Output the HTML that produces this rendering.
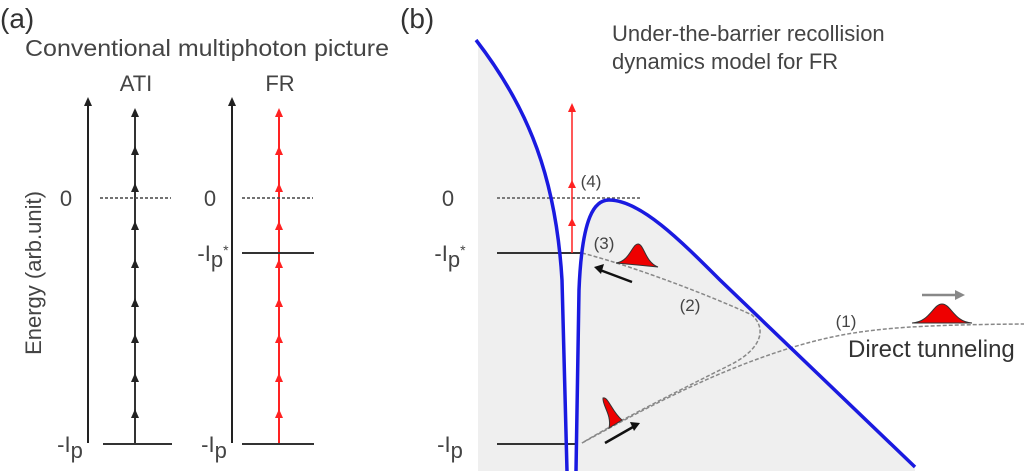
<!DOCTYPE html>
<html><head><meta charset="utf-8"><style>
html,body{margin:0;padding:0;background:#fff;}
svg{display:block;font-family:"Liberation Sans",Arial,sans-serif;}
</style></head><body>
<svg width="1024" height="471" viewBox="0 0 1024 471" xmlns="http://www.w3.org/2000/svg">
<!-- Panel a -->
<text x="0" y="28" font-size="28" fill="#333">(a)</text>
<text x="207" y="56" font-size="23" fill="#444" text-anchor="middle" textLength="364" lengthAdjust="spacingAndGlyphs">Conventional multiphoton picture</text>
<text x="136" y="91" font-size="22" fill="#444" text-anchor="middle">ATI</text>
<text x="280" y="91" font-size="22" fill="#444" text-anchor="middle">FR</text>
<text transform="translate(41,273) rotate(-90)" font-size="22" fill="#444" text-anchor="middle">Energy (arb.unit)</text>
<!-- axis 1 -->
<line x1="88" y1="443" x2="88" y2="104" stroke="#222" stroke-width="2"/>
<path d="M84,106 L88,97 L92,106z" fill="#222"/>
<line x1="135" y1="443" x2="135" y2="112" stroke="#333" stroke-width="2"/>
<g fill="#222">
<path d="M131,117 L135,108 L139,117z"/><path d="M131,155 L135,146 L139,155z"/><path d="M131,192 L135,183 L139,192z"/><path d="M131,230 L135,221 L139,230z"/><path d="M131,268 L135,259 L139,268z"/><path d="M131,307 L135,298 L139,307z"/><path d="M131,343 L135,334 L139,343z"/><path d="M131,382 L135,373 L139,382z"/><path d="M131,418 L135,409 L139,418z"/>
</g>
<line x1="100" y1="198" x2="171" y2="198" stroke="#444" stroke-width="1.5" stroke-dasharray="3,2"/>
<line x1="103" y1="444" x2="172" y2="444" stroke="#333" stroke-width="2"/>
<text x="66" y="206" font-size="22" fill="#444" text-anchor="middle">0</text>
<text x="70" y="452" font-size="22" fill="#444" text-anchor="middle">-I<tspan dy="6">p</tspan></text>
<!-- axis 2 -->
<line x1="232" y1="443" x2="232" y2="104" stroke="#222" stroke-width="2"/>
<path d="M228,106 L232,97 L236,106z" fill="#222"/>
<line x1="279" y1="443" x2="279" y2="112" stroke="#f22" stroke-width="2"/>
<g fill="#f22">
<path d="M275,117 L279,108 L283,117z"/><path d="M275,155 L279,146 L283,155z"/><path d="M275,192 L279,183 L283,192z"/><path d="M275,230 L279,221 L283,230z"/><path d="M275,268 L279,259 L283,268z"/><path d="M275,307 L279,298 L283,307z"/><path d="M275,343 L279,334 L283,343z"/><path d="M275,382 L279,373 L283,382z"/><path d="M275,418 L279,409 L283,418z"/>
</g>
<line x1="242" y1="198" x2="313" y2="198" stroke="#444" stroke-width="1.5" stroke-dasharray="3,2"/>
<line x1="242" y1="253" x2="314" y2="253" stroke="#333" stroke-width="2"/>
<line x1="242" y1="444" x2="314" y2="444" stroke="#333" stroke-width="2"/>
<text x="210" y="206" font-size="22" fill="#444" text-anchor="middle">0</text>
<text x="213" y="261" font-size="22" fill="#444" text-anchor="middle">-I<tspan dy="6">p</tspan><tspan dy="-12" font-size="14">*</tspan></text>
<text x="214" y="452" font-size="22" fill="#444" text-anchor="middle">-I<tspan dy="6">p</tspan></text>

<!-- Panel b -->
<text x="400" y="28" font-size="28" fill="#333">(b)</text>
<text x="612" y="41" font-size="22" fill="#444">Under-the-barrier recollision</text>
<text x="612" y="69" font-size="22" fill="#444">dynamics model for FR</text>
<path d="M478,42 C530,110 556,180 562,280 L567,471 L576,471 L579,290 C582,215 595,200 609,200 C640,200 680,240 720,280 L915,467 L915,471 L478,471 Z" fill="#efefef"/>
<line x1="497" y1="198" x2="640" y2="198" stroke="#555" stroke-width="1.5" stroke-dasharray="3,2"/>
<line x1="497" y1="253" x2="582" y2="253" stroke="#333" stroke-width="2"/>
<line x1="497" y1="444" x2="575" y2="444" stroke="#333" stroke-width="2"/>
<text x="448" y="206" font-size="22" fill="#444" text-anchor="middle">0</text>
<text x="450" y="261" font-size="22" fill="#444" text-anchor="middle">-I<tspan dy="6">p</tspan><tspan dy="-12" font-size="14">*</tspan></text>
<text x="450" y="452" font-size="22" fill="#444" text-anchor="middle">-I<tspan dy="6">p</tspan></text>
<line x1="572" y1="253" x2="572" y2="108" stroke="#f22" stroke-width="1.5"/>
<g fill="#f22"><path d="M568,112 L572,103 L576,112z"/><path d="M568,188 L572,180 L576,188z"/><path d="M568,226 L572,218 L576,226z"/></g>
<path d="M582,253 C640,268 720,300 752,315 C768,330 760,350 730,365 C680,390 620,420 582,443" fill="none" stroke="#888" stroke-width="1.5" stroke-dasharray="4,2"/>
<path d="M582,443 C660,400 720,370 790,348 C850,330 890,325 1024,324" fill="none" stroke="#888" stroke-width="1.5" stroke-dasharray="4,2"/>
<path d="M476,40 C530,110 556,180 562,280 L567,471" fill="none" stroke="#1a1ae0" stroke-width="3.5"/>
<path d="M576,471 L579,290 C582,215 595,200 609,200 C640,200 680,240 720,280 L915,467" fill="none" stroke="#1a1ae0" stroke-width="3.5"/>
<path d="M616,263 C630,261 632,244 638,244 C644,244 645,262 658,267 Z" fill="#e00" stroke="#333" stroke-width="1"/>
<path d="M912,323 C930,322 933,304 942,304 C951,304 954,322 972,323 Z" fill="#e00" stroke="#333" stroke-width="1"/>
<path d="M603,398 C608,396 612,412 622,420 L609,428 C612,415 602,405 603,398 Z" fill="#e00" stroke="#333" stroke-width="1"/>
<line x1="632" y1="282" x2="600" y2="270" stroke="#111" stroke-width="2.5"/>
<path d="M594,267 L604,264 L601,274z" fill="#111"/>
<line x1="605" y1="443" x2="633" y2="427" stroke="#111" stroke-width="2.5"/>
<path d="M640,423 L630,422 L634,431z" fill="#111"/>
<line x1="922" y1="295" x2="958" y2="295" stroke="#888" stroke-width="2.5"/>
<path d="M965,295 L955,290 L955,300z" fill="#888"/>
<text x="591" y="187" font-size="17" fill="#444" text-anchor="middle">(4)</text>
<text x="604" y="249" font-size="17" fill="#444" text-anchor="middle">(3)</text>
<text x="690" y="311" font-size="17" fill="#444" text-anchor="middle">(2)</text>
<text x="846" y="327" font-size="17" fill="#444" text-anchor="middle">(1)</text>
<text x="848" y="357" font-size="24" fill="#333">Direct tunneling</text>
</svg>
</body></html>
